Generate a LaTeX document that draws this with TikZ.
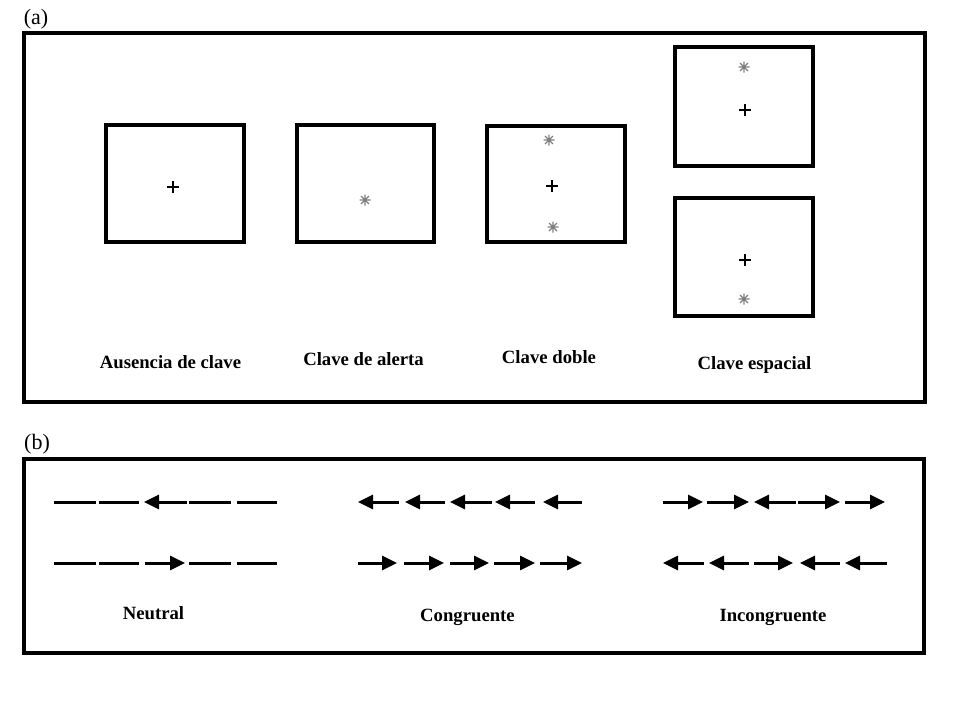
\documentclass[tikz,border=0pt]{standalone}
\usepackage{fontspec}
\setmainfont{Liberation Serif}
\usetikzlibrary{arrows.meta}
\tikzset{
  frame/.style={draw, line width=3.5pt},
  cuebox/.style={draw, line width=3.5pt, minimum width=138pt, minimum height=117pt, inner sep=0pt},
  lbl/.style={anchor=base, font=\fontsize{18.7}{22}\selectfont\bfseries, inner sep=0pt},
  panel/.style={font=\fontsize{22}{26}\selectfont, inner sep=0pt},
  seg/.style={line width=3pt},
  la/.style={seg, {Triangle[length=15pt,width=14pt]}-},
  ra/.style={seg, -{Triangle[length=15pt,width=14pt]}},
  plussign/.pic={\draw[line width=1.4pt] (-6,0)--(6,0) (0,-6)--(0,6);},
  astsign/.pic={\draw[line width=1.1pt, gray] (-5.5,0)--(5.5,0) (0,-5.5)--(0,5.5) (-3.9,-3.9)--(3.9,3.9) (-3.9,3.9)--(3.9,-3.9);}
}
\begin{document}
\begin{tikzpicture}[x=1pt,y=-1pt]
\useasboundingbox (0,0) rectangle (960,720);
% panel labels
\node[panel] (pa) at (36,19) {(a)};
\node[panel] (pb) at (37,444) {(b)};
% frames
\draw[frame] (24,33) rectangle (925,402);
\draw[frame] (24,459) rectangle (924,653);
% cue boxes
\node[cuebox] (b1) at (175,183.5) {};
\node[cuebox, minimum width=137pt] (b2) at (365.5,183.5) {};
\node[cuebox, minimum height=116pt] (b3) at (556,184) {};
\node[cuebox, minimum height=119pt] (b4) at (744,106.5) {};
\node[cuebox, minimum height=118pt] (b5) at (744,257) {};
% symbols
\pic at (173,187) {plussign};
\pic at (365,200) {astsign};
\pic at (549,140) {astsign};
\pic at (552,186) {plussign};
\pic at (553,227) {astsign};
\pic at (744,67) {astsign};
\pic at (745,110) {plussign};
\pic at (745,260) {plussign};
\pic at (744,299) {astsign};
% labels (a)
\node[lbl] (l1) at (170.5,368) {Ausencia de clave};
\node[lbl] (l2) at (363.5,365.5) {Clave de alerta};
\node[lbl] (l3) at (549,363) {Clave doble};
\node[lbl] (l4) at (754.5,369) {Clave espacial};
% flanker rows
\foreach \a/\b/\t in {54/96/seg, 99/139/seg, 144/187/la, 189/231/seg, 237/277/seg,
  358/399/la, 405/445/la, 450/492/la, 495/535/la, 543/582/la,
  663/703/ra, 707/749/ra, 754/796/la, 798/840/ra, 845/885/ra}
  \draw[\t] (\a,502) -- (\b,502);
\foreach \a/\b/\t in {54/96/seg, 99/139/seg, 145/185/ra, 189/231/seg, 237/277/seg,
  358/397/ra, 404/444/ra, 450/489/ra, 494/535/ra, 540/582/ra,
  663/704/la, 709/749/la, 754/793/ra, 800/840/la, 845/887/la}
  \draw[\t] (\a,563) -- (\b,563);
% labels (b)
\node[lbl] (n1) at (153.5,619) {Neutral};
\node[lbl] (n2) at (467.5,621) {Congruente};
\node[lbl] (n3) at (773,621) {Incongruente};
\end{tikzpicture}
\end{document}
